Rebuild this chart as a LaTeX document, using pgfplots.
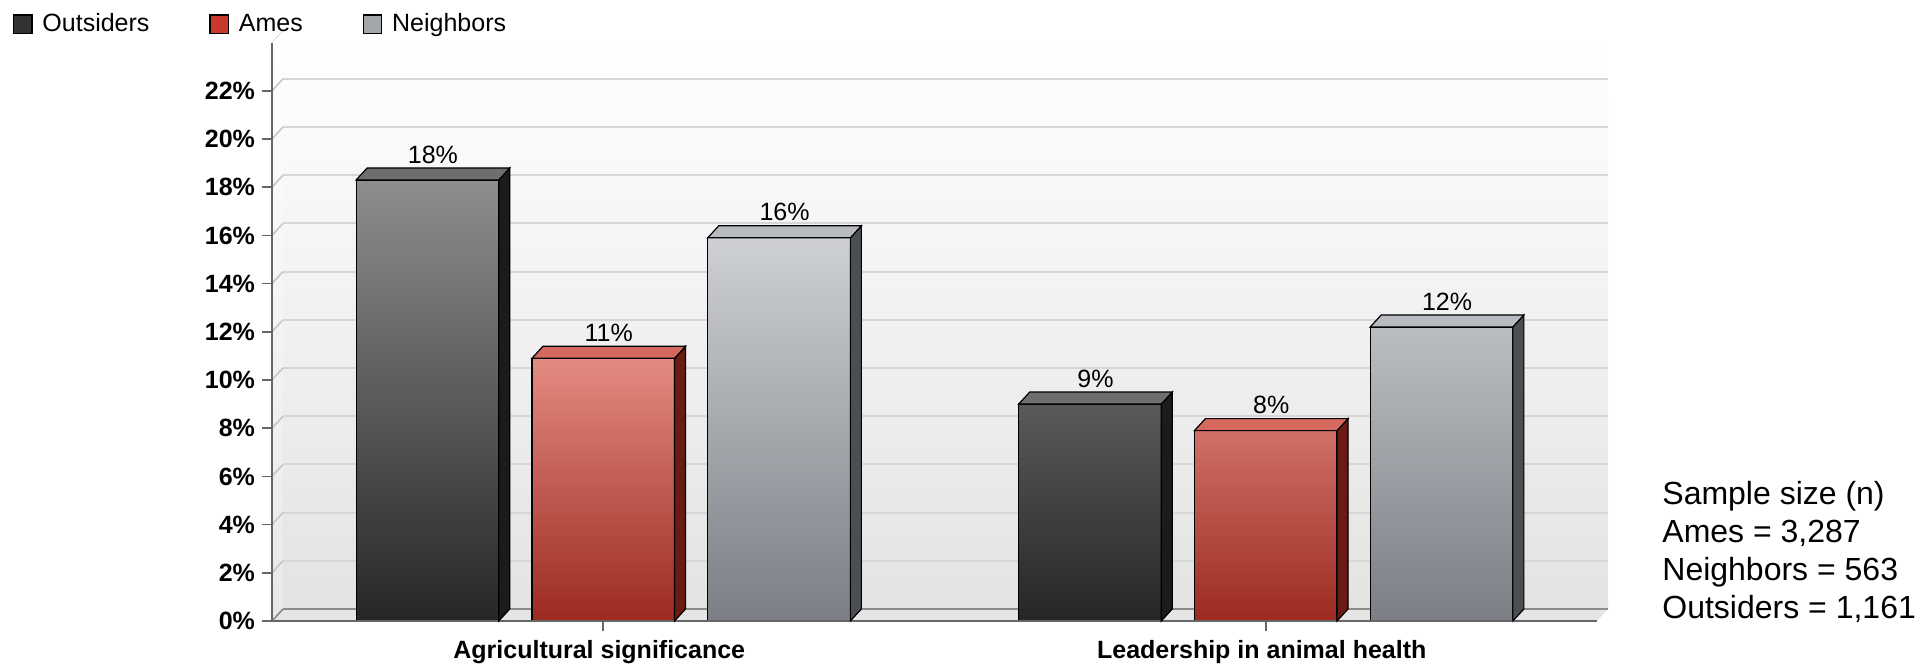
\documentclass[border=0pt]{standalone}
\usepackage{pgfplots}
\pgfplotsset{compat=1.18}
\usepackage{fontspec}
\setmainfont{Liberation Sans}

\definecolor{oT}{HTML}{8E8E8E}
\definecolor{oM}{HTML}{303030}
\definecolor{oB}{HTML}{262626}
\definecolor{oSide}{HTML}{1B1B1B}
\definecolor{oTop}{HTML}{6E6E6E}
\definecolor{aT}{HTML}{E38B81}
\definecolor{aM}{HTML}{C9382B}
\definecolor{aB}{HTML}{9C2A20}
\definecolor{aSide}{HTML}{6A1B13}
\definecolor{aTop}{HTML}{D6695E}
\definecolor{nT}{HTML}{CED0D4}
\definecolor{nM}{HTML}{ABAEB4}
\definecolor{nB}{HTML}{7B7F85}
\definecolor{nSide}{HTML}{4B4F53}
\definecolor{nTop}{HTML}{B8BBC0}
\definecolor{legO}{HTML}{333333}
\definecolor{legA}{HTML}{C8382C}
\definecolor{legN}{HTML}{A3A6AB}

\newcommand\hw{35.65}
\newcommand\hwx{41.15}
\newcommand\ddx{5.5}
\newcommand\ddy{6}
\newcommand\yu{12.05}

\pgfdeclareplotmark{sideface}{%
  \pgfmathsetmacro\fB{-\val*\yu}%
  \pgfmathsetmacro\bB{-\val*\yu+\ddy}%
  \pgfpathmoveto{\pgfqpoint{\hw pt}{0pt}}%
  \pgfpathlineto{\pgfqpoint{\hwx pt}{\ddy pt}}%
  \pgfpathlineto{\pgfqpoint{\hwx pt}{\bB pt}}%
  \pgfpathlineto{\pgfqpoint{\hw pt}{\fB pt}}%
  \pgfpathclose
  \pgfusepathqfillstroke
}
\pgfdeclareplotmark{topface}{%
  \pgfmathsetmacro\lx{-\hw+\ddx}%
  \pgfpathmoveto{\pgfqpoint{-\hw pt}{0pt}}%
  \pgfpathlineto{\pgfqpoint{\lx pt}{\ddy pt}}%
  \pgfpathlineto{\pgfqpoint{\hwx pt}{\ddy pt}}%
  \pgfpathlineto{\pgfqpoint{\hw pt}{0pt}}%
  \pgfpathclose
  \pgfusepathqfillstroke
}

\begin{document}
\begin{tikzpicture}
\begin{axis}[
  x=331.25pt, y=12.05pt,
  xmin=-0.5, xmax=1.5, ymin=0, ymax=24,
  axis lines*=left,
  axis line style={black!60, line width=1pt},
  clip=false,
  xtick={0,1},
  xticklabels={Agricultural significance, Leadership in animal health},
  ytick={0,2,...,22},
  yticklabel={\pgfmathprintnumber{\tick}\%},
  /pgf/number format/assume math mode=true,
  tick align=outside, major tick length=5pt,
  tick style={black!60, line width=0.8pt},
  ticklabel style={font=\fontsize{12.5}{15}\selectfont\bfseries},
  xticklabel style={yshift=-1pt, xshift=-2pt},
  ymajorgrids,
  major grid style={black!16, line width=1pt, shift={(5.5pt,6pt)}},
  axis background/.style={top color=white, bottom color=black!11, draw=none, shift={(5.5pt,6pt)}},
  legend columns=-1,
  legend style={at={(-0.2040,1.011)}, anchor=west, draw=none, fill=none, inner sep=0pt,
    font=\fontsize{12.5}{15}\selectfont,
    /tikz/every even column/.append style={column sep=28pt}},
  legend image code/.code={\draw[#1, draw=black, line width=0.6pt] (0pt,-4.6pt) rectangle (9.2pt,4.6pt); \path (12.2pt,0pt);},
]
% floor and left wall
\fill[black!10] (axis cs:-0.5,0) -- (axis cs:1.5,0) -- ++(5.5pt,6pt) -- ([xshift=5.5pt,yshift=6pt]axis cs:-0.5,0) -- cycle;
\draw[black!45, line width=0.8pt] ([xshift=5.5pt,yshift=6pt]axis cs:-0.5,0) -- ([xshift=5.5pt,yshift=6pt]axis cs:1.5,0);
\fill[top color=white, bottom color=black!9] (axis cs:-0.5,0) -- ++(5.5pt,6pt) -- ([xshift=5.5pt,yshift=6pt]axis cs:-0.5,24) -- (axis cs:-0.5,24) -- cycle;
\pgfplotsinvokeforeach{2,4,...,22}{\draw[black!22, line width=0.8pt] (axis cs:-0.5,#1) -- ++(5.5pt,6pt);}
\draw[black!45, line width=0.8pt] (axis cs:-0.5,0) -- ++(5.5pt,6pt);

\addlegendimage{fill=legO}\addlegendentry{Outsiders}
\addlegendimage{fill=legA}\addlegendentry{Ames\hspace{6.8pt}}
\addlegendimage{fill=legN}\addlegendentry{Neighbors}

% Outsiders
\addplot[ybar, bar width=71.3pt, bar shift=-87.9pt, draw=black, line width=0.6pt,
  top color=oT, middle color=oM, bottom color=oB, forget plot]
  coordinates {(0,18.3) (1,9.0)};
% Ames
\addplot[ybar, bar width=71.3pt, bar shift=0pt, draw=black, line width=0.6pt,
  top color=aT, middle color=aM, bottom color=aB, forget plot]
  coordinates {(0,10.9) (1,7.9)};
% Neighbors
\addplot[ybar, bar width=71.3pt, bar shift=87.9pt, draw=black, line width=0.6pt,
  top color=nT, middle color=nM, bottom color=nB, forget plot]
  coordinates {(0,15.9) (1,12.2)};

% 3D faces and value labels
\addplot[only marks, forget plot, mark=sideface, visualization depends on={rawy \as \val},
  mark options={xshift=-87.9pt, fill=oSide, draw=black, line width=0.6pt}]
  coordinates {(0,18.3) (1,9.0)};
\addplot[only marks, forget plot, mark=topface, visualization depends on={rawy \as \val},
  mark options={xshift=-87.9pt, fill=oTop, draw=black, line width=0.6pt},
  nodes near coords={\pgfmathprintnumber[fixed,precision=0]{\pgfplotspointmeta}\%},
  every node near coord/.append style={font=\fontsize{12.5}{15}\selectfont, text=black, anchor=south, inner sep=1pt, xshift=2.75pt, yshift=7pt}]
  coordinates {(0,18.3) (1,9.0)};
\addplot[only marks, forget plot, mark=sideface, visualization depends on={rawy \as \val},
  mark options={xshift=0pt, fill=aSide, draw=black, line width=0.6pt}]
  coordinates {(0,10.9) (1,7.9)};
\addplot[only marks, forget plot, mark=topface, visualization depends on={rawy \as \val},
  mark options={xshift=0pt, fill=aTop, draw=black, line width=0.6pt},
  nodes near coords={\pgfmathprintnumber[fixed,precision=0]{\pgfplotspointmeta}\%},
  every node near coord/.append style={font=\fontsize{12.5}{15}\selectfont, text=black, anchor=south, inner sep=1pt, xshift=2.75pt, yshift=7pt}]
  coordinates {(0,10.9) (1,7.9)};
\addplot[only marks, forget plot, mark=sideface, visualization depends on={rawy \as \val},
  mark options={xshift=87.9pt, fill=nSide, draw=black, line width=0.6pt}]
  coordinates {(0,15.9) (1,12.2)};
\addplot[only marks, forget plot, mark=topface, visualization depends on={rawy \as \val},
  mark options={xshift=87.9pt, fill=nTop, draw=black, line width=0.6pt},
  nodes near coords={\pgfmathprintnumber[fixed,precision=0]{\pgfplotspointmeta}\%},
  every node near coord/.append style={font=\fontsize{12.5}{15}\selectfont, text=black, anchor=south, inner sep=1pt, xshift=2.75pt, yshift=7pt}]
  coordinates {(0,15.9) (1,12.2)};

% axis lines on top
\draw[black!60, line width=1pt] (axis cs:-0.5,24) -- (axis cs:-0.5,0) -- (axis cs:1.5,0);

% sample size note
\coordinate (ax0) at (rel axis cs:0,0);
\node[anchor=base west, inner sep=0pt, font=\fontsize{16}{19}\selectfont, xshift=695pt, yshift=58.3pt] at (rel axis cs:0,0) {Sample size (n)};
\node[anchor=base west, inner sep=0pt, font=\fontsize{16}{19}\selectfont, xshift=695pt, yshift=39.3pt] at (rel axis cs:0,0) {Ames = 3,287};
\node[anchor=base west, inner sep=0pt, font=\fontsize{16}{19}\selectfont, xshift=695pt, yshift=20.3pt] at (rel axis cs:0,0) {Neighbors = 563};
\node[anchor=base west, inner sep=0pt, font=\fontsize{16}{19}\selectfont, xshift=695pt, yshift=1.3pt] at (rel axis cs:0,0) {Outsiders = 1,161};
\end{axis}
\pgfresetboundingbox
\path[use as bounding box] ([xshift=-136pt,yshift=-21.5pt]ax0) rectangle ([xshift=828pt,yshift=310.5pt]ax0);
\end{tikzpicture}
\end{document}
